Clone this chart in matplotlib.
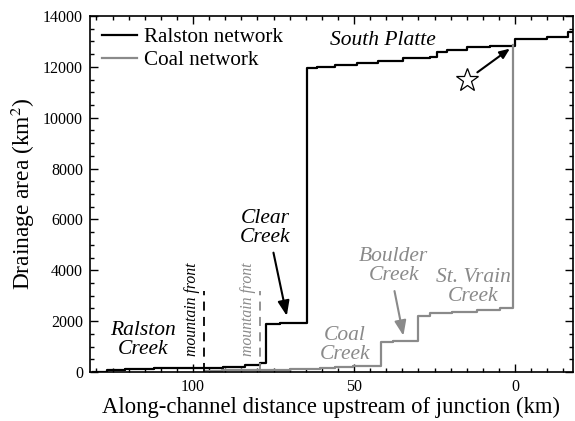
import matplotlib
matplotlib.use("Agg")
import matplotlib.pyplot as plt
from matplotlib.ticker import MultipleLocator

plt.rcParams['font.family'] = ['Liberation Serif', 'DejaVu Serif']
plt.rcParams['mathtext.fontset'] = 'stix'

# distance upstream of junction (km) and cumulative drainage area (km^2), step profiles
ralston_km = [131, 126.7, 121, 112, 90.7, 83.9, 79.2, 77.3, 73, 64.6, 61.6, 55.9, 49.2,
              42.4, 34.8, 26.4, 24.3, 21.2, 15, 7.8, 0, -9.8, -16.5, -18.5]
ralston_area = [10, 80, 120, 140, 210, 275, 350, 1890, 1940, 11970, 12010, 12070, 12140,
                12230, 12340, 12400, 12570, 12660, 12770, 12830, 13100, 13160, 13380, 13450]

coal_km = [96, 91, 80, 70, 60.6, 55.9, 50.2, 41.6, 37.8, 30.2, 26.4, 19.7, 11.9, 4.7, 0.7]
coal_area = [30, 70, 90, 110, 144, 183, 236, 1190, 1230, 2215, 2307, 2373, 2438, 2504, 12870]

# mountain front positions (km)
front_ralston = 96.6
front_coal = 79.2
front_top = 3200

GRAY = '#8a8a8a'

fig = plt.figure(figsize=(5.75, 4.21), dpi=100)
ax = fig.add_axes([0.1565, 0.1164, 0.84, 0.8456])

ax.plot(ralston_km, ralston_area, drawstyle='steps-post', color='black', lw=1.6,
        label='Ralston network')
ax.plot(coal_km, coal_area, drawstyle='steps-post', color=GRAY, lw=1.6,
        label='Coal network')

ax.plot([front_ralston, front_ralston], [0, front_top], color='black', lw=1.3,
        dashes=(5, 3.5))
ax.plot([front_coal, front_coal], [0, front_top], color=GRAY, lw=1.3, dashes=(5, 3.5))
ax.text(100.2, 2450, 'mountain front', rotation=90, style='italic', fontsize=11.3,
        ha='center', va='center', color='black')
ax.text(83, 2450, 'mountain front', rotation=90, style='italic', fontsize=11.3,
        ha='center', va='center', color=GRAY)

lab = dict(style='italic', fontsize=15.5, ha='center', va='center', linespacing=1.0)
ax.text(115.5, 1250, 'Ralston\nCreek', color='black', **lab)
ax.text(77.6, 5650, 'Clear\nCreek', color='black', **lab)
ax.text(41, 13050, 'South Platte', color='black', **lab)
ax.text(52.8, 1060, 'Coal\nCreek', color=GRAY, **lab)
ax.text(37.7, 4170, 'Boulder\nCreek', color=GRAY, **lab)
ax.text(12.9, 3340, 'St. Vrain\nCreek', color=GRAY, **lab)

arrow = dict(arrowstyle='-|>,head_length=0.9,head_width=0.35', lw=1.5)
ax.annotate('', xy=(70.7, 2100), xytext=(75.2, 4800),
            arrowprops=dict(color='black', **arrow))
ax.annotate('', xy=(34.5, 1320), xytext=(37.6, 3290),
            arrowprops=dict(color=GRAY, **arrow))
ax.annotate('', xy=(0.9, 12780), xytext=(12.4, 11720),
            arrowprops=dict(color='black', arrowstyle='-|>,head_length=0.6,head_width=0.25',
                            lw=1.5))
ax.plot([15], [11480], marker='*', ms=17, mfc='white', mec='black', mew=0.9)

ax.set_xlim(132, -18)
ax.set_ylim(0, 14000)
ax.xaxis.set_major_locator(MultipleLocator(50))
ax.xaxis.set_minor_locator(MultipleLocator(5))
ax.yaxis.set_major_locator(MultipleLocator(2000))
ax.yaxis.set_minor_locator(MultipleLocator(500))
ax.tick_params(which='both', direction='in', top=True, right=True, labelsize=11.5)
ax.tick_params(which='major', length=6, width=1, pad=5)
ax.tick_params(which='minor', length=3, width=1)
for s in ax.spines.values():
    s.set_linewidth(1.2)

ax.set_xlabel('Along-channel distance upstream of junction (km)', fontsize=16.3, labelpad=1)
ax.set_ylabel('Drainage area (km$^2$)', fontsize=16.8, labelpad=4)

ax.legend(loc='upper left', frameon=False, fontsize=15.2, handlelength=1.7,
          borderaxespad=0.15, handletextpad=0.3, labelspacing=0.15)

fig.savefig('out.png', dpi=100)
